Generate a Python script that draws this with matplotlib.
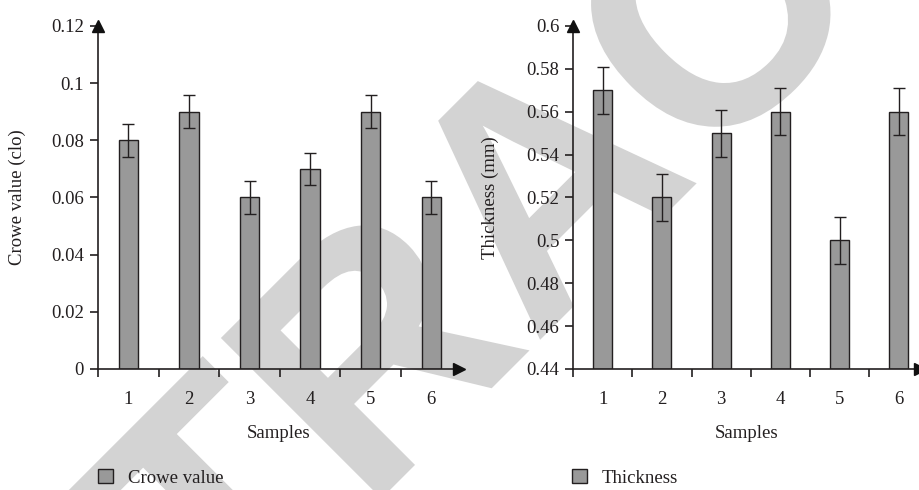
import matplotlib
matplotlib.use("Agg")
import matplotlib.pyplot as plt
import numpy as np
from matplotlib.textpath import TextPath
from matplotlib.patches import PathPatch
from matplotlib.font_manager import FontProperties
from matplotlib.transforms import Affine2D

samples = ["1", "2", "3", "4", "5", "6"]
crowe = [0.08, 0.09, 0.06, 0.07, 0.09, 0.06]
crowe_err = [0.0057, 0.0057, 0.0057, 0.0057, 0.0057, 0.0057]
thick = [0.57, 0.52, 0.55, 0.56, 0.50, 0.56]
thick_err = [0.011, 0.011, 0.011, 0.011, 0.011, 0.011]
crowe_ticks = [0, 0.02, 0.04, 0.06, 0.08, 0.1, 0.12]
crowe_ticklabels = ["0", "0.02", "0.04", "0.06", "0.08", "0.1", "0.12"]
thick_ticks = [0.44, 0.46, 0.48, 0.5, 0.52, 0.54, 0.56, 0.58, 0.6]
thick_ticklabels = ["0.44", "0.46", "0.48", "0.5", "0.52", "0.54", "0.56", "0.58", "0.6"]

plt.rcParams['font.family'] = ['Liberation Serif', 'DejaVu Serif']
FS = 13.5
TXT = '#231f20'
BAR = '#999999'

fig = plt.figure(figsize=(9.2, 4.9), dpi=100)

# watermark (drawn behind everything)
tp = TextPath((0, 0), "RETRACTED", size=330,
              prop=FontProperties(family='Liberation Sans', weight='bold'))
ext = tp.get_extents()
cx = (ext.x0 + ext.x1) / 2.0
cy = (0 + ext.y1) / 2.0
wm_tr = Affine2D().translate(-cx, -cy).rotate_deg(45).translate(540, 490 - 177)
wm = PathPatch(tp, facecolor='#d3d3d3', edgecolor='none', transform=wm_tr, zorder=-5)
fig.add_artist(wm)
wm.set_transform(wm_tr)

def make(ax_rect, vals, errs, ticks, ticklabels, ylim, xmax, ylabel, legend, ylpad):
    ax = fig.add_axes(ax_rect)
    ax.patch.set_alpha(0)
    x = np.arange(1, len(samples) + 1)
    ax.bar(x, [v - ylim[0] for v in vals], bottom=ylim[0], width=0.32, color=BAR,
           edgecolor='#231f20', linewidth=1.0, label=legend, zorder=2)
    ax.errorbar(x, vals, yerr=errs, fmt='none', ecolor='#231f20', elinewidth=1.0,
                capsize=4, capthick=1.0, zorder=3)
    ax.set_xlim(0.5, xmax)
    ax.set_ylim(ylim)
    for s in ['top', 'right']:
        ax.spines[s].set_visible(False)
    for s in ['left', 'bottom']:
        ax.spines[s].set_color('#231f20')
        ax.spines[s].set_linewidth(1.2)
    ax.set_yticks(ticks)
    ax.set_yticklabels(ticklabels, fontsize=FS, color=TXT)
    ax.set_xticks(x)
    ax.set_xticklabels(samples, fontsize=FS, color=TXT)
    ax.set_xticks(np.arange(0.5, len(samples) + 0.5, 1.0), minor=True)
    ax.tick_params(axis='x', which='major', length=0, pad=16)
    ax.tick_params(axis='x', which='minor', length=6, width=1.2, color='#231f20')
    ax.tick_params(axis='y', length=6, width=1.2, color='#231f20', pad=4)
    ax.set_xlabel("Samples", fontsize=FS, color=TXT, labelpad=12)
    ax.set_ylabel(ylabel, fontsize=FS, color=TXT, labelpad=ylpad)
    ax.plot([0], [1], marker='^', markersize=9, color='#111111', transform=ax.transAxes, clip_on=False, zorder=5)
    ax.plot([1], [0], marker='>', markersize=9, color='#111111', transform=ax.transAxes, clip_on=False, zorder=5)
    return ax

ax1 = make([0.1065, 0.247, 0.392, 0.700], crowe, crowe_err, crowe_ticks, crowe_ticklabels,
           (0, 0.12), 6.45, "Crowe value (clo)", "Crowe value", 18)
ax2 = make([0.623, 0.247, 0.377, 0.700], thick, thick_err, thick_ticks, thick_ticklabels,
           (0.44, 0.6), 6.36, "Thickness (mm)", "Thickness", 20)

for ax, bx in ((ax1, 0.107), (ax2, 0.622)):
    ax.legend(loc='center left', bbox_to_anchor=(bx, 0.025), bbox_transform=fig.transFigure,
              frameon=False, fontsize=FS, handlelength=0.8, handleheight=0.8, handletextpad=0.75,
              borderaxespad=0, borderpad=0, labelcolor=TXT)

fig.savefig("out.png", dpi=100)
